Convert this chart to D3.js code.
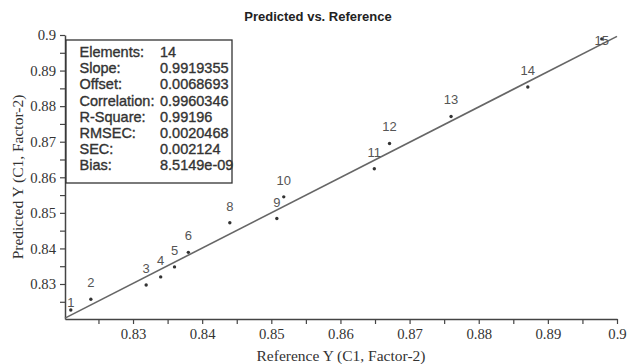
<!DOCTYPE html>
<html>
<head>
<meta charset="utf-8">
<script src="https://cdn.jsdelivr.net/npm/d3@7/dist/d3.min.js"></script>
<style>
  html, body { margin: 0; padding: 0; background: #fff; }
  svg { display: block; }
</style>
</head>
<body>
<div id="chart"></div>
<script>
// Sample ids (sample 7 is excluded from the model)
const sampleIds = [1, 2, 3, 4, 5, 6, 8, 9, 10, 11, 12, 13, 14, 15];
// Reference (measured) values
const referenceY = [0.8210, 0.8239, 0.8319, 0.8340, 0.8360, 0.8380, 0.8440, 0.8508, 0.8518, 0.8649, 0.8671, 0.8760, 0.8871, 0.8978];
// Predicted values from the calibration model
const predictedY = [0.8227, 0.8257, 0.8297, 0.8320, 0.8348, 0.8389, 0.8472, 0.8484, 0.8545, 0.8624, 0.8695, 0.8771, 0.8854, 0.8989];

// Regression statistics
const statLabels = ["Elements:", "Slope:", "Offset:", "Correlation:", "R-Square:", "RMSEC:", "SEC:", "Bias:"];
const statValues = ["14", "0.9919355", "0.0068693", "0.9960346", "0.99196", "0.0020468", "0.002124", "8.5149e-09"];
const slope = 0.9919355;
const offset = 0.0068693;

// Axis ticks
const axisDomain = [0.82016, 0.9];
const majorTicks = [0.83, 0.84, 0.85, 0.86, 0.87, 0.88, 0.89, 0.9];
const minorTicks = [0.825, 0.835, 0.845, 0.855, 0.865, 0.875, 0.885, 0.895];

const W = 628, H = 364;
const margin = { top: 35, right: 11, bottom: 45, left: 65 };
const iw = W - margin.left - margin.right;
const ih = H - margin.top - margin.bottom;

const svg = d3.select("#chart").append("svg")
  .attr("width", W).attr("height", H);

const g = svg.append("g").attr("transform", `translate(${margin.left},${margin.top})`);

const x = d3.scaleLinear().domain(axisDomain).range([0, iw]);
const y = d3.scaleLinear().domain(axisDomain).range([ih, 0]);

const fmt = v => String(+v.toFixed(3));
const serif = "'Liberation Serif', 'Times New Roman', serif";
const sans = "'Liberation Sans', Arial, Helvetica, sans-serif";

// Title
svg.append("text")
  .attr("x", 318).attr("y", 21)
  .attr("text-anchor", "middle")
  .attr("font-family", sans).attr("font-weight", "bold")
  .attr("font-size", 13).attr("fill", "#222")
  .text("Predicted vs. Reference");

// Minor ticks (no labels)
const xMinor = g.append("g").attr("transform", `translate(0,${ih})`)
  .call(d3.axisBottom(x).tickValues(minorTicks).tickSize(5).tickFormat(""));
const yMinor = g.append("g")
  .call(d3.axisLeft(y).tickValues(minorTicks).tickSize(5).tickFormat(""));

// Major axes
const xAxis = g.append("g").attr("transform", `translate(0,${ih})`)
  .call(d3.axisBottom(x).tickValues(majorTicks).tickSize(5).tickPadding(5).tickSizeOuter(0).tickFormat(fmt));
const yAxis = g.append("g")
  .call(d3.axisLeft(y).tickValues(majorTicks).tickSize(5).tickPadding(4).tickSizeOuter(0).tickFormat(fmt));

[xMinor, yMinor, xAxis, yAxis].forEach(a => {
  a.select(".domain").attr("stroke", "#444").attr("stroke-width", 1.5);
  a.selectAll(".tick line").attr("stroke", "#444").attr("stroke-width", 1.2);
  a.selectAll(".tick text").attr("font-family", serif).attr("font-size", 14.7).attr("fill", "#333");
});
xMinor.select(".domain").remove();
yMinor.select(".domain").remove();

// Axis titles
svg.append("text")
  .attr("x", margin.left + iw / 2).attr("y", 361)
  .attr("text-anchor", "middle")
  .attr("font-family", serif).attr("font-size", 15.5).attr("fill", "#333")
  .text("Reference Y (C1, Factor-2)");
svg.append("text")
  .attr("transform", `translate(23,${margin.top + ih / 2}) rotate(-90)`)
  .attr("text-anchor", "middle")
  .attr("font-family", serif).attr("font-size", 15.5).attr("fill", "#333")
  .text("Predicted Y (C1, Factor-2)");

// Regression line across the full reference range
const lineX = axisDomain;
g.append("line")
  .attr("x1", x(lineX[0])).attr("y1", y(slope * lineX[0] + offset))
  .attr("x2", x(lineX[1])).attr("y2", y(slope * lineX[1] + offset))
  .attr("stroke", "#666").attr("stroke-width", 1.6);

const points = sampleIds.map((id, i) => ({ id, rx: referenceY[i], py: predictedY[i] }));

// Sample points
g.selectAll("circle.pt").data(points).join("circle")
  .attr("class", "pt")
  .attr("cx", d => x(d.rx)).attr("cy", d => y(d.py))
  .attr("r", 1.7).attr("fill", "#333");

// Sample labels above each point, kept inside the plot area
g.selectAll("text.lbl").data(points).join("text")
  .attr("class", "lbl")
  .attr("x", d => x(d.rx))
  .attr("y", d => {
    const above = d.id === 1 ? y(d.py) - 3 : y(d.py) - 12;
    return Math.max(above, 10);
  })
  .attr("text-anchor", "middle")
  .attr("font-family", sans).attr("font-size", 13).attr("fill", "#555")
  .text(d => d.id);

// Statistics box
const box = g.append("g").attr("transform", "translate(1,5)");
box.append("rect")
  .attr("x", 0).attr("y", 0).attr("width", 166).attr("height", 143)
  .attr("fill", "#fff").attr("stroke", "#333").attr("stroke-width", 1.3);
statLabels.forEach((lab, i) => {
  const yy = 12 + i * 16.2 + 5;
  [[13.5, lab], [94, statValues[i]]].forEach(([tx, str]) => {
    box.append("text")
      .attr("x", tx).attr("y", yy)
      .attr("font-family", sans).attr("font-size", 14.5)
      .attr("fill", "#333").attr("stroke", "#333").attr("stroke-width", 0.35)
      .text(str);
  });
});
</script>
</body>
</html>
